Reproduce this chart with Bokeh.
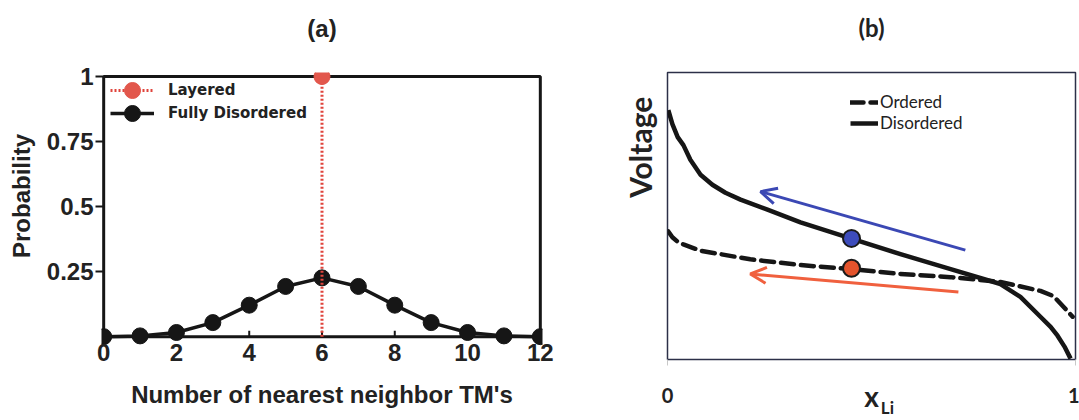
from bokeh.embed import file_html
from bokeh.layouts import row
from bokeh.models import (Arrow, FixedTicker, Legend, LegendItem, LinearAxis,
                          OpenHead, Range1d)
from bokeh.plotting import figure
from bokeh.resources import INLINE

# ---------------- (a) nearest-neighbour TM statistics ----------------
neighbors = list(range(13))
p_disordered = [0.0, 0.003, 0.016, 0.054, 0.121, 0.193, 0.226,
                0.193, 0.121, 0.054, 0.016, 0.003, 0.0]
layered_x = [6, 6]
layered_y = [0.0, 1.0]
layered_peak_x = [6]
layered_peak_y = [1.0]
n_ticks = [0, 2, 4, 6, 8, 10, 12]
prob_ticks = [0.25, 0.5, 0.75, 1.0]
prob_tick_labels = ["0.25", "0.5", "0.75", "1"]

# ---------------- (b) schematic voltage profiles ----------------
x_disordered = [0.002, 0.012, 0.025, 0.039, 0.056, 0.081, 0.110, 0.142, 0.179,
                0.245, 0.326, 0.449, 0.571, 0.694, 0.816, 0.865, 0.914,
                0.939, 0.956, 0.973, 0.988]
v_disordered = [0.869, 0.820, 0.775, 0.747, 0.696, 0.644, 0.609, 0.581, 0.557,
                0.522, 0.478, 0.422, 0.367, 0.315, 0.263, 0.218, 0.149,
                0.114, 0.083, 0.045, 0.003]
x_ordered = [0.002, 0.012, 0.025, 0.039, 0.081, 0.203, 0.326, 0.449, 0.571,
             0.694, 0.816, 0.914, 0.946, 0.971, 0.993]
v_ordered = [0.446, 0.426, 0.410, 0.401, 0.379, 0.349, 0.329, 0.315, 0.298,
             0.287, 0.270, 0.239, 0.221, 0.183, 0.149]
state_x = [0.451, 0.451]
state_v = [0.422, 0.318]
state_colors = ["#3d4cbc", "#e4532c"]
# arrows: (x_start, v_start, x_end, v_end)
arrow_disordered = (0.730, 0.381, 0.228, 0.585)
arrow_ordered = (0.713, 0.235, 0.203, 0.298)
xli_ticks = [0, 1]
xli_symbol_at = 0.5
xli_subscript_at = 0.539

INK = "#161616"
RED = "#e0443c"
TXT = "#222222"
NBSP = "\u00a0"

# the two frames share rows; panel (a)'s box is a little shorter than its frame
PA_PX_PER_UNIT = 262.0
PA_TICK_LEN = 6 / PA_PX_PER_UNIT


def bare_axis(ticks=(), **kw):
    """An axis that only carries labels (no line, no tick marks)."""
    ax = LinearAxis(ticker=FixedTicker(ticks=list(ticks)), **kw)
    ax.axis_line_color = None
    ax.major_tick_line_color = None
    ax.minor_tick_line_color = None
    ax.major_tick_in = 0
    ax.major_tick_out = 0
    ax.major_label_standoff = 0
    return ax


# ================= panel (a) =================
pa = figure(width=560, height=420, x_range=Range1d(-0.06, 12.06),
            y_range=Range1d(-0.0878, 1.0153),
            output_backend="svg", toolbar_location=None,
            min_border_left=101, min_border_right=18,
            min_border_top=72, min_border_bottom=59)
pa.grid.visible = False
pa.outline_line_color = None

xa = pa.xaxis[0]
ya = pa.yaxis[0]
for ax in (xa, ya):
    ax.axis_line_color = None
    ax.major_tick_line_color = INK
    ax.major_tick_line_width = 2
    ax.minor_tick_line_color = None
    ax.major_label_text_font = "Liberation Sans"
    ax.major_label_text_font_style = "bold"
    ax.major_label_text_font_size = "24px"
    ax.major_label_text_color = TXT
    ax.axis_label_text_font = "Liberation Sans"
    ax.axis_label_text_font_style = "bold"
    ax.axis_label_text_font_size = "24px"
    ax.axis_label_text_color = TXT

xa.ticker = FixedTicker(ticks=n_ticks)
xa.major_tick_line_color = None
xa.major_tick_in = 0
xa.major_tick_out = 0
xa.major_label_standoff = -16
xa.axis_label = "Number of nearest neighbor TM's"
xa.axis_label_standoff = 17

ya.ticker = FixedTicker(ticks=prob_ticks)
ya.major_label_overrides = dict(zip(prob_ticks, prob_tick_labels))
ya.major_tick_in = 2
ya.major_tick_out = 6
ya.major_label_standoff = 2
# leading no-break spaces lift the rotated label a little above centre
ya.axis_label = NBSP * 6 + "Probability"
ya.axis_label_standoff = 9

title_a = bare_axis(axis_label="(a)")
title_a.axis_label_standoff = 31
title_a.axis_label_text_font = "Liberation Sans"
title_a.axis_label_text_font_style = "bold"
title_a.axis_label_text_font_size = "24px"
title_a.axis_label_text_color = TXT
pa.add_layout(title_a, "above")

# probability box and its inward x ticks
pa.quad(left=[neighbors[0]], right=[neighbors[-1]], bottom=[0], top=[1],
        fill_color=None, line_color=INK, line_width=3)
pa.segment(x0=n_ticks, y0=[0] * len(n_ticks), x1=n_ticks,
           y1=[PA_TICK_LEN] * len(n_ticks), line_color=INK, line_width=2)

r_dis_line = pa.line(neighbors, p_disordered, line_color=INK, line_width=3.5)
r_dis_pts = pa.scatter(neighbors, p_disordered, size=16, fill_color=INK, line_color=INK)
r_lay_line = pa.line(layered_x, layered_y, line_color=RED, line_width=3, line_dash="2 2")
r_lay_pt = pa.scatter(layered_peak_x, layered_peak_y, size=16,
                      fill_color="#e2574c", line_color="#e2574c")


def legend_a(label, renderers, y):
    lg = Legend(items=[LegendItem(label=label, renderers=renderers)], location=(9, y))
    lg.margin = 0
    lg.padding = 0
    lg.spacing = 0
    lg.glyph_width = 44
    lg.glyph_height = 40
    lg.label_height = 40
    lg.label_standoff = 14
    lg.label_text_font = "DejaVu Sans"
    lg.label_text_font_style = "bold"
    lg.label_text_font_size = "15px"
    lg.label_text_color = TXT
    lg.border_line_alpha = 0
    lg.background_fill_alpha = 0
    return lg


pa.add_layout(legend_a("Layered", [r_lay_line, r_lay_pt], 249))
pa.add_layout(legend_a("Fully Disordered", [r_dis_line, r_dis_pts], 226))

# ================= panel (b) =================
pb = figure(width=519, height=420, x_range=Range1d(0, 1), y_range=Range1d(0, 1),
            output_backend="svg", toolbar_location=None,
            min_border_left=107, min_border_right=4,
            min_border_top=72, min_border_bottom=59)
pb.grid.visible = False
pb.outline_line_color = "#2c3048"
pb.outline_line_width = 1.5
pb.outline_line_alpha = 1.0

xb = pb.xaxis[0]
yb = pb.yaxis[0]

yb.ticker = FixedTicker(ticks=[])
yb.axis_line_color = None
yb.major_tick_line_color = None
yb.minor_tick_line_color = None
yb.axis_label = NBSP * 19 + "Voltage"
yb.axis_label_standoff = 10
yb.axis_label_text_font = "Lato"
yb.axis_label_text_font_style = "bold"
yb.axis_label_text_font_size = "30px"
yb.axis_label_text_color = TXT

xb.ticker = FixedTicker(ticks=xli_ticks)
xb.axis_line_color = None
xb.minor_tick_line_color = None
xb.major_tick_line_color = "#c8c8c8"
xb.major_tick_in = 0
xb.major_tick_out = 6
xb.major_label_standoff = 22
xb.major_label_text_font = "Lato"
xb.major_label_text_font_style = "bold"
xb.major_label_text_font_size = "20px"
xb.major_label_text_color = TXT

title_b = bare_axis(axis_label="(b)")
title_b.axis_label_standoff = 31
title_b.axis_label_text_font = "Lato"
title_b.axis_label_text_font_style = "bold"
title_b.axis_label_text_font_size = "24px"
title_b.axis_label_text_color = TXT
pb.add_layout(title_b, "above")

# x_Li written as two stacked label rows: "x" and its subscript "Li"
sym_axis = bare_axis(ticks=[xli_symbol_at])
sym_axis.major_label_overrides = {xli_symbol_at: "x"}
sym_axis.major_label_standoff = -27
sym_axis.major_label_text_font = "Lato"
sym_axis.major_label_text_font_style = "bold"
sym_axis.major_label_text_font_size = "28px"
sym_axis.major_label_text_color = TXT
pb.add_layout(sym_axis, "below")

sub_axis = bare_axis(ticks=[xli_subscript_at])
sub_axis.major_label_overrides = {xli_subscript_at: "Li"}
sub_axis.major_label_standoff = -19
sub_axis.major_label_text_font = "Lato"
sub_axis.major_label_text_font_style = "bold"
sub_axis.major_label_text_font_size = "17px"
sub_axis.major_label_text_color = TXT
pb.add_layout(sub_axis, "below")

r_ord = pb.line(x_ordered, v_ordered, line_color=INK, line_width=4.5,
                line_dash="13 7", line_cap="round", line_join="round")
r_dis = pb.line(x_disordered, v_disordered, line_color=INK, line_width=4.5,
                line_join="round")

for (xs, ys, xe, ye), col in ((arrow_disordered, "#3b48b4"), (arrow_ordered, "#f0603e")):
    pb.add_layout(Arrow(end=OpenHead(size=16, line_color=col, line_width=3),
                        x_start=xs, y_start=ys, x_end=xe, y_end=ye,
                        line_color=col, line_width=3))

pb.scatter(state_x, state_v, size=17, fill_color=state_colors,
           line_color="#1a1a1a", line_width=2)

leg_b = Legend(items=[LegendItem(label="Ordered", renderers=[r_ord]),
                      LegendItem(label="Disordered", renderers=[r_dis])],
               location=(183, 226))
leg_b.margin = 0
leg_b.padding = 0
leg_b.spacing = 0
leg_b.glyph_width = 28
leg_b.glyph_height = 20
leg_b.label_height = 20
leg_b.label_standoff = 2
leg_b.label_text_font = "Lato"
leg_b.label_text_font_size = "17px"
leg_b.label_text_color = TXT
leg_b.border_line_alpha = 0
leg_b.background_fill_alpha = 0
pb.add_layout(leg_b)

layout = row(pa, pb)
open("out.html", "w").write(file_html(layout, INLINE))
